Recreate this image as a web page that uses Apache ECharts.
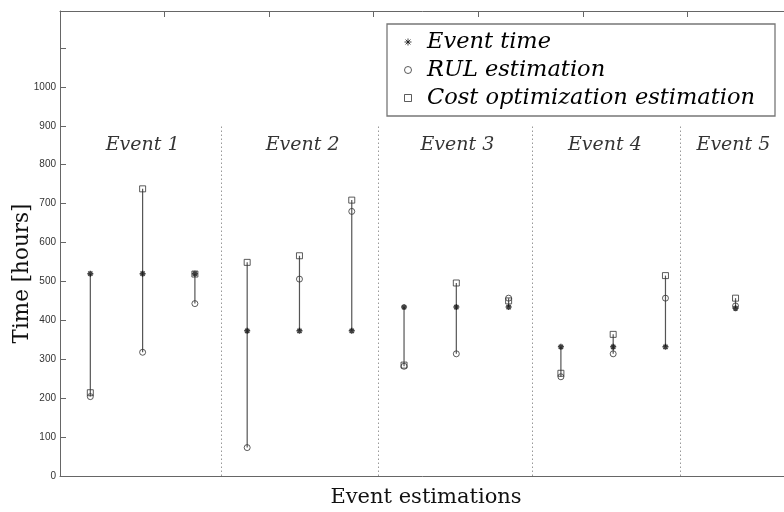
<!DOCTYPE html>
<html>
<head>
<meta charset="utf-8">
<script src="https://cdn.jsdelivr.net/npm/echarts@6/dist/echarts.min.js"></script>
<style>
html,body{margin:0;padding:0;background:#fff;}
#chart{width:784px;height:512px;}
</style>
</head>
<body>
<div id="chart"></div>
<script>
// ---- data ----
const eventNames = ['Event 1', 'Event 2', 'Event 3', 'Event 4', 'Event 5'];
const eventLabelX = [0.79, 2.32, 3.80, 5.21, 6.44];
const eventLabelY = [851, 851, 851, 851, 851];
const dividerX = [1.54, 3.04, 4.52, 5.935];
const estimationX = [0.29, 0.79, 1.29, 1.79, 2.29, 2.79, 3.29, 3.79, 4.29, 4.79, 5.29, 5.79, 6.46];
const eventTime = [520, 520, 520, 373, 373, 373, 434, 434, 434, 332, 332, 332, 431];
const rulEstimation = [204, 318, 443, 73, 506, 680, 282, 314, 457, 255, 314, 457, 437];
const costEstimation = [214, 738, 519, 549, 566, 709, 285, 496, 450, 264, 364, 515, 457];
const yTickLabels = [0, 100, 200, 300, 400, 500, 600, 700, 800, 900, 1000];

const seriesNames = ['Event time', 'RUL estimation', 'Cost optimization estimation'];
const starPath = 'path://M5,0L5,10M0,5L10,5M1.5,1.5L8.5,8.5M8.5,1.5L1.5,8.5';
const squarePath = 'path://M0,0L10,0L10,10L0,10Z';
const dark = '#111';

const rangeData = estimationX.map((x, i) => {
  const v = [eventTime[i], rulEstimation[i], costEstimation[i]];
  return [x, Math.min.apply(null, v), Math.max.apply(null, v)];
});

const chart = echarts.init(document.getElementById('chart'), null, {renderer: 'canvas'});
chart.setOption({
  animation: false,
  backgroundColor: '#fff',
  grid: {left: 60, right: -8, top: 11, bottom: 36, containLabel: false, outerBoundsMode: 'none'},
  legend: {
    data: seriesNames,
    orient: 'vertical',
    left: 387,
    top: 24,
    padding: [4, 8, 4, 17],
    itemGap: 0,
    itemWidth: 28,
    itemHeight: 7,
    borderColor: '#777',
    borderWidth: 1.3,
    backgroundColor: '#fff',
    selectedMode: false,
    itemStyle: {borderWidth: 1},
    textStyle: {
      fontFamily: 'DejaVu Serif',
      fontStyle: 'italic',
      fontSize: 22.5,
      lineHeight: 28,
      width: 340,
      color: '#000'
    }
  },
  xAxis: [{
    type: 'value',
    min: 0,
    max: 7,
    interval: 1,
    position: 'bottom',
    name: 'Event estimations',
    nameLocation: 'middle',
    nameGap: 11,
    nameTextStyle: {fontFamily: 'DejaVu Serif', fontSize: 21, color: '#111', verticalAlign: 'top'},
    axisLine: {show: true, lineStyle: {color: '#666', width: 1}},
    axisTick: {show: false},
    axisLabel: {show: false},
    splitLine: {show: false}
  }, {
    type: 'value',
    min: 0,
    max: 7,
    interval: 1,
    position: 'top',
    axisLine: {show: true, lineStyle: {color: '#666', width: 1}},
    axisTick: {show: true, inside: true, length: 6, lineStyle: {color: '#666'}},
    axisLabel: {show: false},
    splitLine: {show: false}
  }],
  yAxis: {
    type: 'value',
    min: 0,
    max: 1195,
    interval: 100,
    name: 'Time [hours]',
    nameLocation: 'middle',
    nameGap: 27,
    nameMoveOverlap: false,
    nameTextStyle: {fontFamily: 'DejaVu Serif', fontSize: 21.5, color: '#111', padding: [0, 60, 0, 0]},
    axisLine: {show: true, lineStyle: {color: '#666', width: 1}},
    axisTick: {show: true, inside: true, length: 6, lineStyle: {color: '#666'}},
    axisLabel: {
      margin: 4,
      fontFamily: 'Liberation Sans',
      fontSize: 10,
      color: '#333',
      formatter: v => (yTickLabels.indexOf(v) >= 0 ? String(v) : '')
    },
    splitLine: {show: false}
  },
  series: [{
    type: 'custom',
    name: 'ranges',
    xAxisIndex: 0,
    data: rangeData,
    encode: {x: 0, y: [1, 2]},
    z: 1,
    renderItem: function (params, api) {
      const p1 = api.coord([api.value(0), api.value(1)]);
      const p2 = api.coord([api.value(0), api.value(2)]);
      return {type: 'line', shape: {x1: p1[0], y1: p1[1], x2: p2[0], y2: p2[1]},
        style: {stroke: '#555', lineWidth: 1.2}};
    },
    markLine: {
      silent: true,
      symbol: ['none', 'none'],
      label: {show: false},
      lineStyle: {type: [1.5, 2.5], color: '#999', width: 1},
      data: dividerX.map(x => [{coord: [x, 0]}, {coord: [x, 900]}])
    }
  }, {
    type: 'scatter',
    name: seriesNames[0],
    xAxisIndex: 0,
    data: estimationX.map((x, i) => [x, eventTime[i]]),
    symbol: starPath,
    symbolSize: 6,
    itemStyle: {color: dark, borderColor: dark, borderWidth: 1.5},
    z: 3
  }, {
    type: 'scatter',
    name: seriesNames[1],
    xAxisIndex: 0,
    data: estimationX.map((x, i) => [x, rulEstimation[i]]),
    symbol: 'circle',
    symbolSize: 6,
    itemStyle: {color: 'rgba(0,0,0,0)', borderColor: '#333', borderWidth: 1},
    z: 4
  }, {
    type: 'scatter',
    name: seriesNames[2],
    xAxisIndex: 0,
    data: estimationX.map((x, i) => [x, costEstimation[i]]),
    symbol: squarePath,
    symbolSize: 6,
    symbolKeepAspect: true,
    itemStyle: {color: 'rgba(0,0,0,0)', borderColor: '#333', borderWidth: 1},
    z: 5
  }, {
    type: 'scatter',
    name: 'eventLabels',
    xAxisIndex: 0,
    data: eventNames.map((n, i) => ({name: n, value: [eventLabelX[i], eventLabelY[i]]})),
    symbolSize: 0,
    silent: true,
    label: {
      show: true,
      position: 'inside',
      formatter: p => p.name,
      fontFamily: 'DejaVu Serif',
      fontStyle: 'italic',
      fontSize: 19,
      color: '#000'
    },
    z: 6
  }]
});
</script>
</body>
</html>
